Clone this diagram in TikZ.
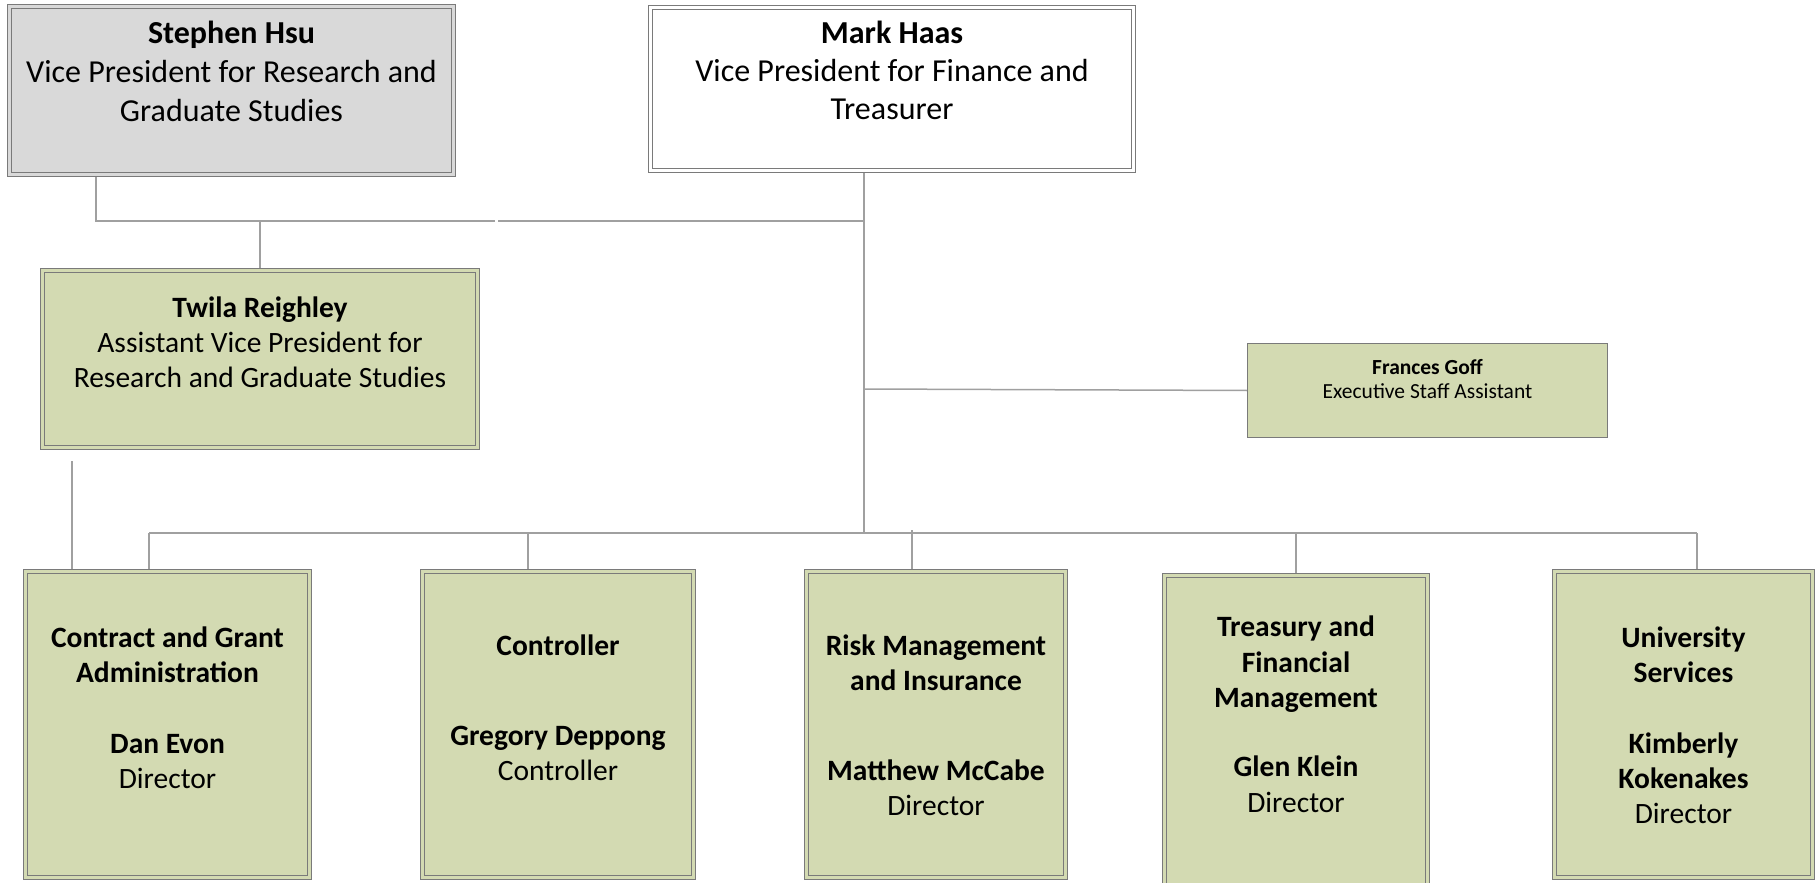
\documentclass[tikz,border=0pt]{standalone}
\usepackage{fontspec}
\setmainfont{Carlito}
\usetikzlibrary{backgrounds}
\definecolor{boxgreen}{HTML}{D3DAB2}
\definecolor{boxgray}{HTML}{D9D9D9}
\definecolor{edgegray}{HTML}{7A7A7A}
\definecolor{linegray}{HTML}{A0A0A0}
\newcommand\fls{\rule{0pt}{28pt}}
\newcommand\sfls{\rule{0pt}{18pt}}
\begin{document}
\begin{tikzpicture}[x=1pt,y=-1pt,
  dbox/.style={rectangle, draw=edgegray, line width=1.2pt, double distance=3pt, inner sep=0pt, outer sep=0pt},
  greenbox/.style={dbox, fill=boxgreen, double=boxgreen},
  sbox/.style={rectangle, draw=edgegray, line width=1.2pt, fill=boxgreen, inner sep=0pt, outer sep=0pt},
  bigtxt/.style={anchor=north, inner sep=0pt, align=center, font=\fontsize{32}{39.4}\selectfont},
  midtxt/.style={anchor=north, inner sep=0pt, align=center, font=\fontsize{29.5}{34.8}\selectfont},
  smalltxt/.style={anchor=north, inner sep=0pt, align=center, font=\fontsize{21.5}{24.3}\selectfont},
  conn/.style={draw=linegray, line width=1.5pt}
]
\useasboundingbox (0,0) rectangle (1818,883);

% boxes
\node[dbox, fill=boxgray, double=boxgray, minimum width=443.6pt, minimum height=167.6pt] (stephen) at (231.5,90.5) {};
\node[dbox, fill=white, double=white, minimum width=482.6pt, minimum height=162.6pt] (mark) at (892,89) {};
\node[greenbox, minimum width=434.6pt, minimum height=176.6pt] (twila) at (260,359) {};
\node[sbox, minimum width=359.8pt, minimum height=93.8pt] (frances) at (1427.5,390.5) {};
\node[greenbox, minimum width=283.6pt, minimum height=305.6pt] (contract) at (167.5,724.5) {};
\node[greenbox, minimum width=270.6pt, minimum height=305.6pt] (controller) at (558,724.5) {};
\node[greenbox, minimum width=258.6pt, minimum height=305.6pt] (risk) at (936,724.5) {};
\node[greenbox, minimum width=262.6pt, minimum height=321.6pt] (treasury) at (1296,736.5) {};
\node[greenbox, minimum width=257.6pt, minimum height=305.6pt] (univ) at (1683.5,724.5) {};

% texts
\node[bigtxt] (stephen-t) at (231.5,14.9) {\fls\textbf{Stephen Hsu}\\Vice President for Research and\\Graduate Studies};
\node[bigtxt, font=\fontsize{32}{38.2}\selectfont] (mark-t) at (892,14.9) {\fls\textbf{Mark Haas}\\Vice President for Finance and\\Treasurer};
\node[midtxt] (twila-t) at (260,289.7) {\fls\textbf{Twila Reighley}\\Assistant Vice President for\\Research and Graduate Studies};
\node[smalltxt] (frances-t) at (1427.5,355.9) {\sfls\textbf{Frances Goff}\\Executive Staff Assistant};
\node[midtxt] (contract-t) at (167.5,619) {\fls\textbf{Contract and Grant}\\\textbf{Administration}\\[37.1pt]\textbf{Dan Evon}\\Director};
\node[midtxt] (controller-t) at (558,627.1) {\fls\textbf{Controller}\\[55.6pt]\textbf{Gregory Deppong}\\Controller};
\node[midtxt] (risk-t) at (936,627.1) {\fls\textbf{Risk Management}\\\textbf{and Insurance}\\[55.6pt]\textbf{Matthew McCabe}\\Director};
\node[midtxt, font=\fontsize{29.5}{35.3}\selectfont] (treasury-t) at (1296,608.6) {\fls\textbf{Treasury and}\\\textbf{Financial}\\\textbf{Management}\\[34.2pt]\textbf{Glen Klein}\\Director};
\node[midtxt] (univ-t) at (1683.5,619) {\fls\textbf{University}\\\textbf{Services}\\[37.1pt]\textbf{Kimberly}\\\textbf{Kokenakes}\\Director};

% junction coordinates
\coordinate (s1) at (96,221);
\coordinate (g1) at (495,221);
\coordinate (g2) at (498,221);
\coordinate (tj) at (260,221);
\coordinate (t0) at (864,533);
\coordinate (fj) at (864,389);
\coordinate (tw) at (72,461);
\coordinate (b1) at (149,533);
\coordinate (b2) at (528,533);
\coordinate (b3) at (912,530);
\coordinate (b4) at (1296,533);
\coordinate (b5) at (1697,533);

\begin{scope}[on background layer]
  \fill[white] (0,0) rectangle (1818,883);
  \draw[conn] (s1 |- stephen.south) -- (s1) -- (g1);
  \draw[conn] (g2) -- (t0 |- g2);
  \draw[conn] (tj) -- (twila.north);
  \draw[conn] (t0 |- mark.south) -- (t0);
  \draw[conn] (fj) -- (frances.west);
  \draw[conn] (b1) -- (b5);
  \draw[conn] (b1) -- (b1 |- contract.north);
  \draw[conn] (b2) -- (b2 |- controller.north);
  \draw[conn] (b3) -- (b3 |- risk.north);
  \draw[conn] (b4) -- (b4 |- treasury.north);
  \draw[conn] (b5) -- (b5 |- univ.north);
  \draw[conn] (tw) -- (tw |- contract.north);
\end{scope}
\end{tikzpicture}
\end{document}
